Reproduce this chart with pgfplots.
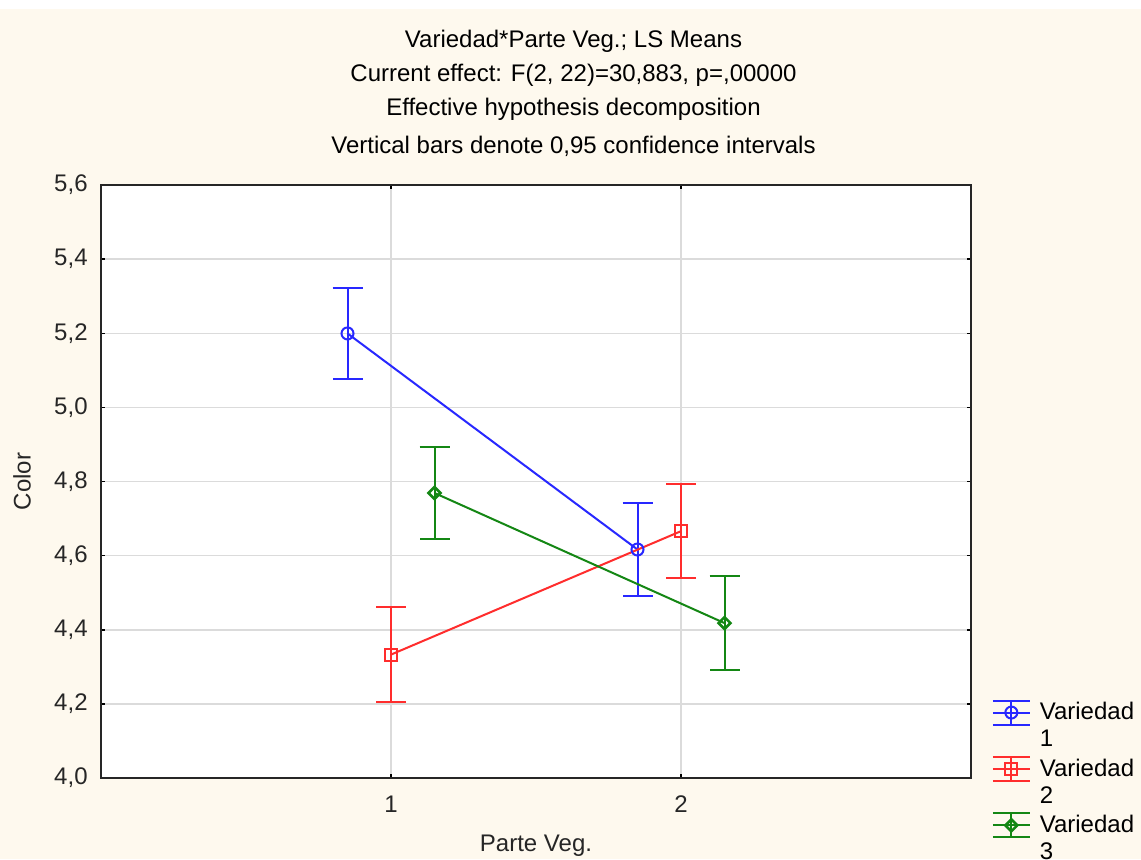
\documentclass[border=0pt]{standalone}
\usepackage{pgfplots}
\pgfplotsset{compat=1.18}
\usepackage{fontspec}
\setmainfont{Liberation Sans}
\definecolor{cream}{RGB}{254,249,238}
\definecolor{sblue}{RGB}{40,40,255}
\definecolor{sred}{RGB}{255,45,45}
\definecolor{sgreen}{RGB}{20,135,20}
\newcommand{\fs}{\fontsize{12}{13.5}\selectfont}
\begin{document}
\begin{tikzpicture}
\fill[cream] (0,0) rectangle (570.5pt,429.5pt);
\fill[white] (0,425pt) rectangle (570.5pt,429.5pt);
\node[anchor=base,font=\fs] at (286.75pt,405.5pt) {Variedad*Parte Veg.; LS Means};
\node[anchor=base,font=\fs] at (286.75pt,388.5pt) {Current effect: F(2, 22)=30,883, p=,00000};
\node[anchor=base,font=\fs] at (286.75pt,371.5pt) {Effective hypothesis decomposition};
\node[anchor=base,font=\fs] at (286.75pt,352.5pt) {Vertical bars denote 0,95 confidence intervals};
\begin{axis}[
  at={(50.5pt,40.5pt)}, anchor=south west,
  scale only axis, width=435pt, height=296.5pt,
  xmin=0, xmax=3, ymin=4.0, ymax=5.6,
  xtick={1,2}, ytick={4.0,4.2,...,5.6},
  axis background/.style={fill=white},
  axis line style={black!85, line width=0.75pt},
  tick align=inside, major tick length=2pt,
  tick style={black, line width=0.75pt},
  grid=major, major grid style={black!14, line width=0.75pt},
  /pgf/number format/assume math mode=true,
  yticklabel style={/pgf/number format/use comma, /pgf/number format/fixed, /pgf/number format/precision=1, /pgf/number format/fixed zerofill},
  tick label style={font=\fs, text=black!85},
  yticklabel style={inner sep=0pt, anchor=east, xshift=-6.5pt},
  xticklabel style={inner sep=0pt, anchor=north, yshift=-8.75pt},
  xlabel={Parte Veg.}, ylabel={Color},
  every axis x label/.style={at={(axis description cs:0.5,-0.1147)}, anchor=center, font=\fs, text=black!85},
  every axis y label/.style={at={(axis description cs:-0.0908,0.5)}, anchor=center, rotate=90, font=\fs, text=black!85},
  legend cell align=left,
  legend style={at={(axis description cs:1.0235,0.135)}, anchor=north west, draw=none, fill=none,
    font=\fs, cells={align=left}, row sep=0.5pt, inner sep=0pt, column sep=2.5pt},
  legend image code/.code={%
    \begin{scope}[yshift=6.75pt]
    \draw[#1, mark=none, line width=1pt] (0pt,0pt) -- (18.5pt,0pt)
      (0pt,6pt) -- (18.5pt,6pt) (0pt,-6pt) -- (18.5pt,-6pt) (9.25pt,-6pt) -- (9.25pt,6pt);
    \draw[#1] plot coordinates {(9.25pt,0pt)};
    \end{scope}
  },
  error bars/y dir=both, error bars/y explicit,
  error bars/error mark options={rotate=90, mark size=7.5pt, line width=1pt},
]
\addplot[sblue, line width=1pt, mark=o, mark size=3pt, mark options={line width=1pt},
  error bars/error bar style={sblue, line width=1pt}]
  table[x=x, y=y, y error=e] {
x y e
0.85 5.1995 0.1225
1.85 4.6165 0.1255
};
\addlegendentry{Variedad\\1}
\addplot[sred, line width=1pt, mark=square, mark size=3pt, mark options={line width=1pt},
  error bars/error bar style={sred, line width=1pt}]
  table[x=x, y=y, y error=e] {
x y e
1.0 4.333 0.128
2.0 4.666 0.1275
};
\addlegendentry{Variedad\\2}
\addplot[sgreen, line width=1pt, mark=square, mark size=2.1pt, mark options={rotate=45, line width=1.3pt},
  error bars/error bar style={sgreen, line width=1pt}]
  table[x=x, y=y, y error=e] {
x y e
1.15 4.769 0.1245
2.15 4.418 0.127
};
\addlegendentry{Variedad\\3}
\end{axis}
\pgfresetboundingbox
\useasboundingbox (0,0) rectangle (570.5pt,429.5pt);
\end{tikzpicture}
\end{document}
